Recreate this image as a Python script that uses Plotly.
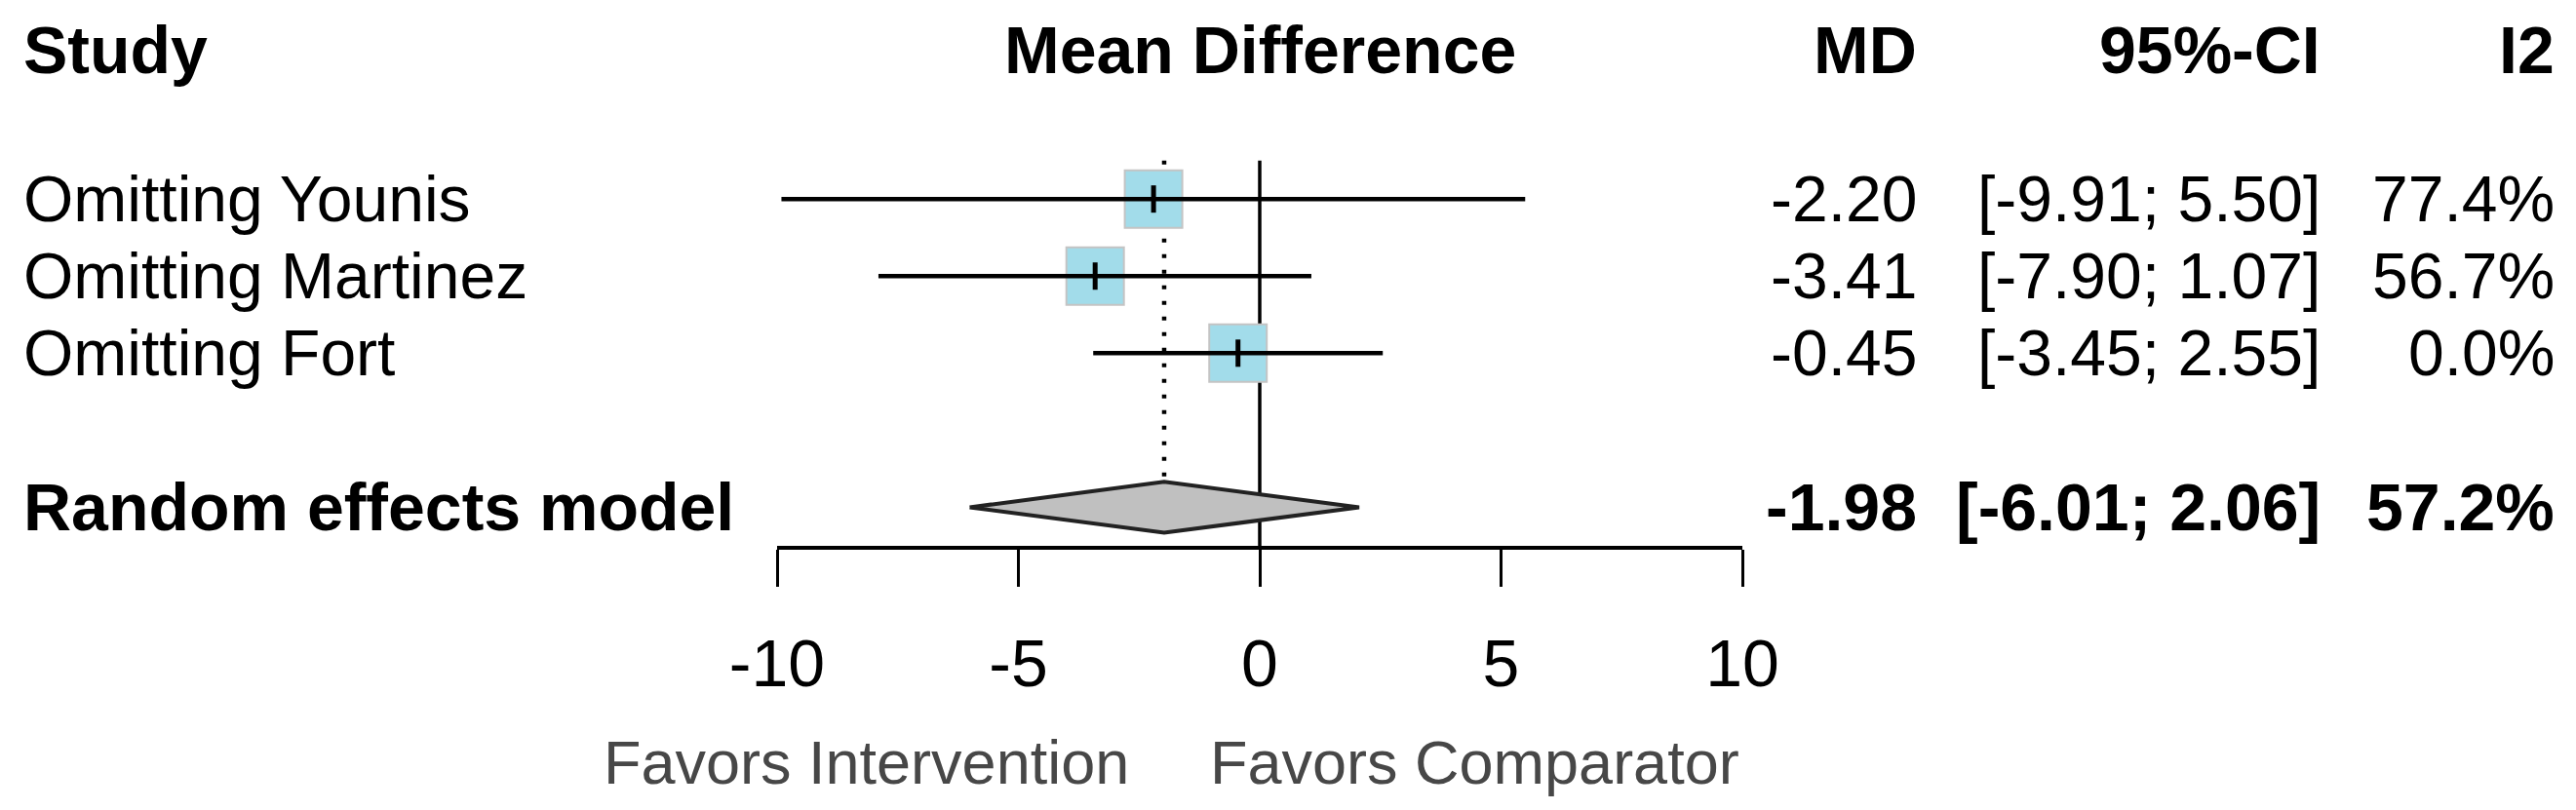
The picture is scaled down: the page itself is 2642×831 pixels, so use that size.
import plotly.graph_objects as go

# leave-one-out results
studies = ["Omitting Younis", "Omitting Martinez", "Omitting Fort"]
md = [-2.20, -3.41, -0.45]
ci_low = [-9.91, -7.90, -3.45]
ci_high = [5.50, 1.07, 2.55]
i2 = [77.4, 56.7, 0.0]

pooled_label = "Random effects model"
pooled_md = -1.98
pooled_low = -6.01
pooled_high = 2.06
pooled_i2 = 57.2

tick_vals = [-10, -5, 0, 5, 10]
tick_text = ["-10", "-5", "0", "5", "10"]
headers = ["Study", "Mean Difference", "MD", "95%-CI", "I2"]
label_left = "Favors Intervention"
label_right = "Favors Comparator"

W, H = 2642, 831
FONT = "Arial, 'Liberation Sans', sans-serif"
rows = [1, 2, 3]
pooled_row = 5
half_diamond = 0.33

fig = go.Figure()

# line of no effect
fig.add_trace(go.Scatter(x=[0, 0], y=[0.5, 5.5], mode="lines",
                         line=dict(color="black", width=3.5), hoverinfo="skip"))
# pooled estimate, dotted
fig.add_trace(go.Scatter(x=[pooled_md, pooled_md], y=[0.5, pooled_row - half_diamond],
                         mode="lines", line=dict(color="black", width=4.5, dash="4px,12px"),
                         hoverinfo="skip"))
# study squares
fig.add_trace(go.Scatter(x=md, y=rows, mode="markers", hoverinfo="skip",
                         marker=dict(symbol="square", size=59, color="#a2dcea",
                                     line=dict(color="#c4c4c4", width=2))))
# confidence intervals
for r, lo, hi in zip(rows, ci_low, ci_high):
    fig.add_trace(go.Scatter(x=[lo, hi], y=[r, r], mode="lines", hoverinfo="skip",
                             line=dict(color="black", width=4.5)))
# point estimate tick
fig.add_trace(go.Scatter(x=md, y=rows, mode="markers", hoverinfo="skip",
                         marker=dict(symbol="line-ns", size=20,
                                     line=dict(color="black", width=5))))
# pooled diamond
fig.add_trace(go.Scatter(
    x=[pooled_low, pooled_md, pooled_high, pooled_md, pooled_low],
    y=[pooled_row, pooled_row - half_diamond, pooled_row, pooled_row + half_diamond, pooled_row],
    mode="lines", fill="toself", fillcolor="#c0c0c0", hoverinfo="skip",
    line=dict(color="#222222", width=4)))

ann = []
head_y = -0.94
col_md, col_ci, col_i2 = 1968 / W, 2382 / W, 2622 / W

def txt(text, x, y, anchor, size, xref="paper", bold=False, color="black"):
    if bold:
        text = "<b>" + text + "</b>"
    ann.append(dict(text=text, x=x, y=y, xref=xref, yref="y", xanchor=anchor,
                    yanchor="middle", showarrow=False,
                    font=dict(family=FONT, size=size, color=color)))

# header row
txt(headers[0], 22 / W, head_y, "left", 68, bold=True)
txt(headers[1], 0, head_y, "center", 68, xref="x", bold=True)
txt(headers[2], col_md, head_y, "right", 68, bold=True)
txt(headers[3], col_ci, head_y, "right", 68, bold=True)
txt(headers[4], col_i2, head_y, "right", 68, bold=True)

# study rows
for r, s, m, lo, hi, h in zip(rows, studies, md, ci_low, ci_high, i2):
    txt(s, 22 / W, r, "left", 66)
    txt(f"{m:.2f}", col_md, r, "right", 66)
    txt(f"[{lo:.2f}; {hi:.2f}]", col_ci, r, "right", 66)
    txt(f"{h:.1f}%", col_i2, r, "right", 66)

# pooled row
txt(pooled_label, 22 / W, pooled_row, "left", 68, bold=True)
txt(f"{pooled_md:.2f}", col_md, pooled_row, "right", 68, bold=True)
txt(f"[{pooled_low:.2f}; {pooled_high:.2f}]", col_ci, pooled_row, "right", 68, bold=True)
txt(f"{pooled_i2:.1f}%", col_i2, pooled_row, "right", 68, bold=True)

# favours labels
for text, x, anchor in [(label_left, 1160 / W, "right"), (label_right, 1239 / W, "left")]:
    ann.append(dict(text=text, x=x, y=(H - 782) / H, xref="paper", yref="paper",
                    xanchor=anchor, yanchor="middle", showarrow=False,
                    font=dict(family=FONT, size=63, color="#474747")))

fig.update_layout(
    width=W, height=H,
    showlegend=False,
    plot_bgcolor="white", paper_bgcolor="white",
    margin=dict(l=0, r=0, t=0, b=0, autoexpand=False),
    annotations=ann,
    xaxis=dict(
        domain=[797 / W, 1787 / W],
        range=[-10, 10],
        tickvals=tick_vals, ticktext=tick_text,
        showline=True, linecolor="black", linewidth=4,
        ticks="outside", ticklen=38, tickwidth=3, tickcolor="black",
        ticklabelstandoff=20,
        tickfont=dict(family=FONT, size=68, color="black"),
        showgrid=False, zeroline=False, fixedrange=True, automargin=False,
    ),
    yaxis=dict(
        domain=[(H - 560) / H, 1],
        range=[5.5, -1.582],
        visible=False, fixedrange=True, automargin=False,
    ),
)

fig.write_html("out.html", config={"displayModeBar": False},
               post_script="document.body.style.margin='0';")
